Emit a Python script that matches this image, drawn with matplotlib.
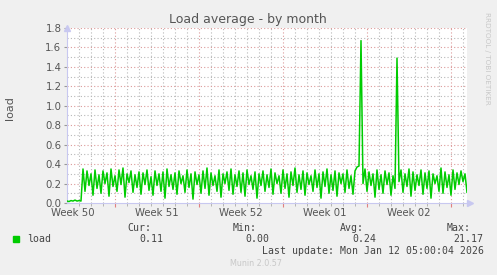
import matplotlib.pyplot as plt
from matplotlib.transforms import blended_transform_factory

# load average, one sample every 4 hours (x in days from left edge)
load = [0.02, 0.015, 0.025, 0.02, 0.03, 0.02, 0.025, 0.02,
        0.35, 0.12, 0.33, 0.18, 0.30, 0.08, 0.34, 0.15, 0.29, 0.10,
        0.33, 0.20, 0.31, 0.07, 0.35, 0.17, 0.28, 0.12, 0.34, 0.19,
        0.36, 0.06, 0.30, 0.21, 0.33, 0.11, 0.29, 0.16, 0.32, 0.09,
        0.31, 0.19, 0.34, 0.13, 0.27, 0.08, 0.33, 0.18, 0.30, 0.12,
        0.32, 0.05, 0.35, 0.17, 0.29, 0.14, 0.31, 0.09, 0.33, 0.20,
        0.28, 0.11, 0.34, 0.16, 0.30, 0.04, 0.32, 0.19, 0.29, 0.10,
        0.33, 0.15, 0.36, 0.08, 0.31, 0.18, 0.28, 0.12, 0.34, 0.06,
        0.30, 0.20, 0.32, 0.13, 0.35, 0.09, 0.29, 0.17, 0.33, 0.11,
        0.31, 0.07, 0.34, 0.19, 0.28, 0.14, 0.32, 0.05, 0.30, 0.18,
        0.33, 0.12, 0.29, 0.16, 0.35, 0.09, 0.31, 0.20, 0.28, 0.10,
        0.34, 0.15, 0.30, 0.06, 0.32, 0.18, 0.36, 0.11, 0.29, 0.14,
        0.33, 0.08, 0.31, 0.19, 0.28, 0.12, 0.34, 0.16, 0.30, 0.05,
        0.32, 0.17, 0.35, 0.10, 0.29, 0.13, 0.33, 0.07, 0.31, 0.20,
        0.30, 0.11, 0.34, 0.15, 0.28, 0.09, 0.33, 0.37, 0.38, 1.67,
        0.20, 0.35, 0.12, 0.32, 0.18, 0.30, 0.06, 0.34, 0.14, 0.29,
        0.10, 0.33, 0.19, 0.31, 0.08, 0.28, 0.15, 1.49, 0.22, 0.34,
        0.11, 0.30, 0.17, 0.35, 0.07, 0.32, 0.13, 0.29, 0.18, 0.34,
        0.09, 0.31, 0.15, 0.33, 0.05, 0.30, 0.20, 0.28, 0.12, 0.36,
        0.10, 0.32, 0.16, 0.29, 0.08, 0.34, 0.14, 0.31, 0.19, 0.33,
        0.22, 0.30, 0.11]
days = [i / 6 for i in range(len(load))]

week_bounds = [4, 11, 18, 25, 32]
week_labels = ['Week 50', 'Week 51', 'Week 52', 'Week 01', 'Week 02']
yticks = [0.0, 0.2, 0.4, 0.6, 0.8, 1.0, 1.2, 1.4, 1.6, 1.8]

stats_names = ['Cur:', 'Min:', 'Avg:', 'Max:']
stats_vals = ['0.11', '0.00', '0.24', '21.17']

W, H = 497, 275
fig = plt.figure(figsize=(W / 100, H / 100), dpi=100, facecolor='#f0f0f0')
ax = fig.add_axes([67 / W, 1 - 203 / H, 400 / W, 175 / H])
ax.set_facecolor('white')

ax.set_xlim(0, 400 / 12)
ax.set_ylim(0, 1.8)

dot = (0, (1, 2))
minor_c = '#b8b8b8'
major_c = '#dc9a9a'
for d in range(1, 34):
    if d not in week_bounds:
        ax.axvline(d, color=minor_c, lw=0.8, ls=dot, zorder=1)
for d in week_bounds:
    ax.axvline(d, color=major_c, lw=0.8, ls=dot, zorder=1)
for k in range(1, 19):
    v = k / 10
    if k % 2:
        ax.axhline(v, color=minor_c, lw=0.8, ls=dot, zorder=1)
    else:
        ax.axhline(v, color=major_c, lw=0.8, ls=dot, zorder=1)

ax.plot(days, load, color='#00cc00', lw=1.1, zorder=3)

for s in ['top', 'right']:
    ax.spines[s].set_visible(False)
for s in ['left', 'bottom']:
    ax.spines[s].set_color('#c8c8f0')
    ax.spines[s].set_linewidth(0.8)
ax.plot([0], [1], marker='^', ms=4, color='#c8c8f0', transform=ax.transAxes, clip_on=False)
ax.plot([1.008], [0], marker='>', ms=4, color='#c8c8f0', transform=ax.transAxes, clip_on=False)

ax.set_yticks(yticks)
ax.set_yticklabels([f'{v:.1f}' for v in yticks])
ax.tick_params(axis='y', length=2, color='#999999', labelsize=7.3, labelcolor='#555555', pad=2)
ax.set_xticks(week_bounds)
ax.set_xticklabels([])
ax.tick_params(axis='x', length=3, color='#e08080', direction='out')
ax.set_xticks(range(1, 34), minor=True)
ax.tick_params(axis='x', which='minor', length=2, color='#aaaaaa')

tr = blended_transform_factory(ax.transData, fig.transFigure)
for b, lab in zip(week_bounds, week_labels):
    ax.text(b - 3.5, 1 - 213 / H, lab, transform=tr, ha='center', va='center',
            fontsize=7.3, color='#555555')

fig.text(248 / W, 1 - 19 / H, 'Load average - by month', ha='center', va='center',
         fontsize=9, color='#555555')
fig.text(10 / W, 1 - 108 / H, 'load', rotation=90, ha='center', va='center',
         fontsize=8, color='#555555')
fig.text(487 / W, 1 - 58 / H, 'RRDTOOL / TOBI OETIKER', rotation=270, ha='center',
         va='center', fontsize=5.2, color='#c8c8c8')

mono = 'DejaVu Sans Mono'
fig.patches.append(plt.Rectangle((13 / W, 1 - 242 / H), 6 / W, 6 / H,
                                 transform=fig.transFigure, color='#00cc00'))
fig.text(27 / W, 1 - 239 / H, 'load', family=mono, fontsize=7.1, color='#444444', va='center')
name_x = [127, 233, 340, 447]
val_x = [139, 245, 352, 453]
for nx, vx, n, v in zip(name_x, val_x, stats_names, stats_vals):
    fig.text(nx / W, 1 - 228 / H, n, family=mono, fontsize=7.1, color='#444444', va='center')
    fig.text(vx / W, 1 - 239 / H, v, family=mono, fontsize=7.1, color='#444444', va='center')
fig.text(262 / W, 1 - 251 / H, 'Last update: Mon Jan 12 05:00:04 2026', family=mono,
         fontsize=7.1, color='#444444', va='center')
fig.text(256 / W, 1 - 264 / H, 'Munin 2.0.57', ha='center', va='center',
         fontsize=5.8, color='#c8c8c8')

fig.savefig('out.png', dpi=100, facecolor=fig.get_facecolor())
